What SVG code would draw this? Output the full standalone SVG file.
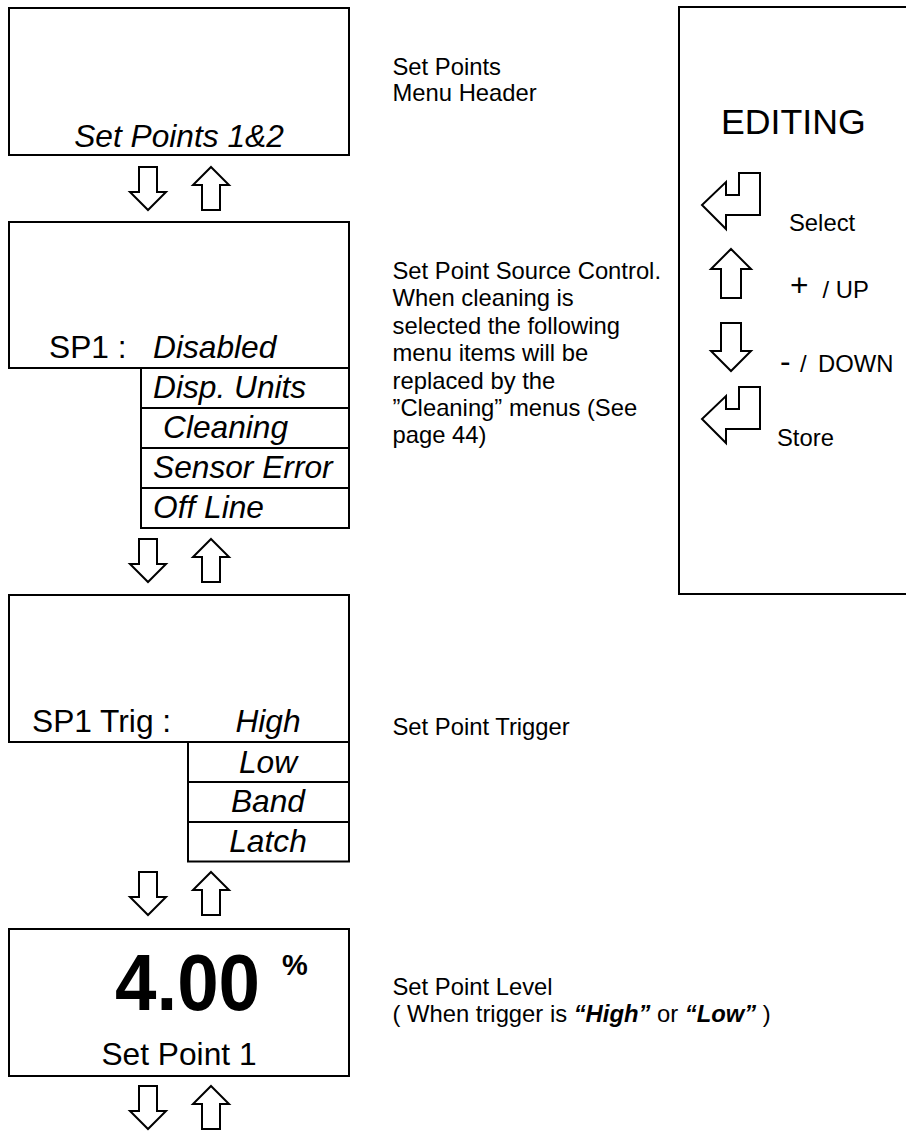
<svg xmlns="http://www.w3.org/2000/svg" xmlns:xlink="http://www.w3.org/1999/xlink" width="906" height="1131" viewBox="0 0 906 1131">
<style>
.box{fill:#fff;stroke:#000;stroke-width:2}
.arr{fill:#fff;stroke:#000;stroke-width:2;stroke-linejoin:miter}
.t{font-family:"Liberation Sans",Arial,sans-serif;fill:#000}
.big{font-size:31.7px}
.it{font-style:italic}
.desc{font-size:23.8px}
.bi{font-weight:bold;font-style:italic}
</style>
<defs>
<path id="dn" d="M-9,0 H9 V25 H18 L0,43 L-18,25 H-9 Z"/>
<path id="up" d="M0,0 L18,18 H9 V43 H-9 V18 H-18 Z"/>
<path id="pdn" d="M-10,0 H10 V28 H20 L0,48 L-20,28 H-10 Z"/>
<path id="pup" d="M0,0 L20,20 H10 V49 H-10 V20 H-20 Z"/>
</defs>
<rect width="906" height="1131" fill="#fff"/>

<g id="node-setpoints-header">
<rect class="box" x="9" y="8" width="340" height="147"/>
<text class="t big it" x="179" y="147" text-anchor="middle">Set Points 1&amp;2</text>
</g>

<g id="desc-header">
<text class="t desc" x="392.5" y="75">Set Points</text>
<text class="t desc" x="392.5" y="101">Menu Header</text>
</g>

<g id="node-sp1-source">
<rect class="box" x="9" y="222" width="340" height="146"/>
<text class="t big" x="49" y="358">SP1 :</text>
<text class="t big it" x="153" y="358">Disabled</text>
<rect class="box" x="141" y="368" width="208" height="40"/>
<rect class="box" x="141" y="408" width="208" height="40"/>
<rect class="box" x="141" y="448" width="208" height="40"/>
<rect class="box" x="141" y="488" width="208" height="40"/>
<text class="t big it" x="153" y="398">Disp. Units</text>
<text class="t big it" x="163" y="438">Cleaning</text>
<text class="t big it" x="153" y="478">Sensor Error</text>
<text class="t big it" x="153" y="518">Off Line</text>
</g>

<g id="desc-source">
<text class="t desc" x="392.5" y="279">Set Point Source Control.</text>
<text class="t desc" x="392.5" y="306.4">When cleaning is</text>
<text class="t desc" x="392.5" y="333.8">selected the following</text>
<text class="t desc" x="392.5" y="361.2">menu items will be</text>
<text class="t desc" x="392.5" y="388.6">replaced by the</text>
<text class="t desc" x="392.5" y="416">”Cleaning” menus (See</text>
<text class="t desc" x="392.5" y="443.4">page 44)</text>
</g>

<g id="node-sp1-trig">
<rect class="box" x="9" y="595" width="340" height="147"/>
<text class="t big" x="32" y="732">SP1 Trig :</text>
<text class="t big it" x="268" y="732" text-anchor="middle">High</text>
<rect class="box" x="188" y="742" width="161" height="40"/>
<rect class="box" x="188" y="782" width="161" height="40"/>
<rect class="box" x="188" y="822" width="161" height="39.5"/>
<text class="t big it" x="268" y="773" text-anchor="middle">Low</text>
<text class="t big it" x="268" y="812" text-anchor="middle">Band</text>
<text class="t big it" x="268" y="852" text-anchor="middle">Latch</text>
</g>

<g id="desc-trig">
<text class="t desc" x="392.5" y="735">Set Point Trigger</text>
</g>

<g id="node-sp1-level">
<rect class="box" x="9" y="929" width="340" height="147"/>
<text class="t" x="115" y="1010" font-size="80" font-weight="bold" textLength="145" lengthAdjust="spacingAndGlyphs">4.00</text>
<text class="t" x="282" y="975" font-size="29" font-weight="bold">%</text>
<text class="t big" x="179" y="1065" text-anchor="middle">Set Point 1</text>
</g>

<g id="desc-level">
<text class="t desc" x="392.5" y="995">Set Point Level</text>
<text class="t desc" x="392.5" y="1022.4">( When trigger is <tspan class="bi">“High”</tspan> or <tspan class="bi">“Low”</tspan> )</text>
</g>

<g id="node-editing">
<rect class="box" x="679" y="7" width="250" height="587"/>
<text class="t" x="721" y="134" font-size="35.7">EDITING</text>
<polygon class="arr" points="739,173 760,173 760,215 726,215 726,229 702,205 726,182 726,195 739,195"/>
<text class="t desc" x="789" y="231">Select</text>
<use xlink:href="#pup" class="arr" x="731" y="249"/>
<text class="t" x="790" y="296" font-size="31.7">+</text>
<text class="t desc" x="822.5" y="298">/ UP</text>
<use xlink:href="#pdn" class="arr" x="731" y="323"/>
<text class="t" x="780" y="372" font-size="31.7">-</text>
<text class="t desc" x="800" y="372">/</text>
<text class="t desc" x="818" y="372">DOWN</text>
<polygon class="arr" points="739,387 760,387 760,429 726,429 726,443 702,419 726,396 726,409 739,409"/>
<text class="t desc" x="777" y="446">Store</text>
</g>

<g id="connectors">
<use xlink:href="#dn" class="arr" x="148" y="167"/>
<use xlink:href="#up" class="arr" x="211" y="167"/>
<use xlink:href="#dn" class="arr" x="148" y="539"/>
<use xlink:href="#up" class="arr" x="211" y="539"/>
<use xlink:href="#dn" class="arr" x="148" y="872"/>
<use xlink:href="#up" class="arr" x="211" y="872"/>
<use xlink:href="#dn" class="arr" x="148" y="1086"/>
<use xlink:href="#up" class="arr" x="211" y="1086"/>
</g>
</svg>
